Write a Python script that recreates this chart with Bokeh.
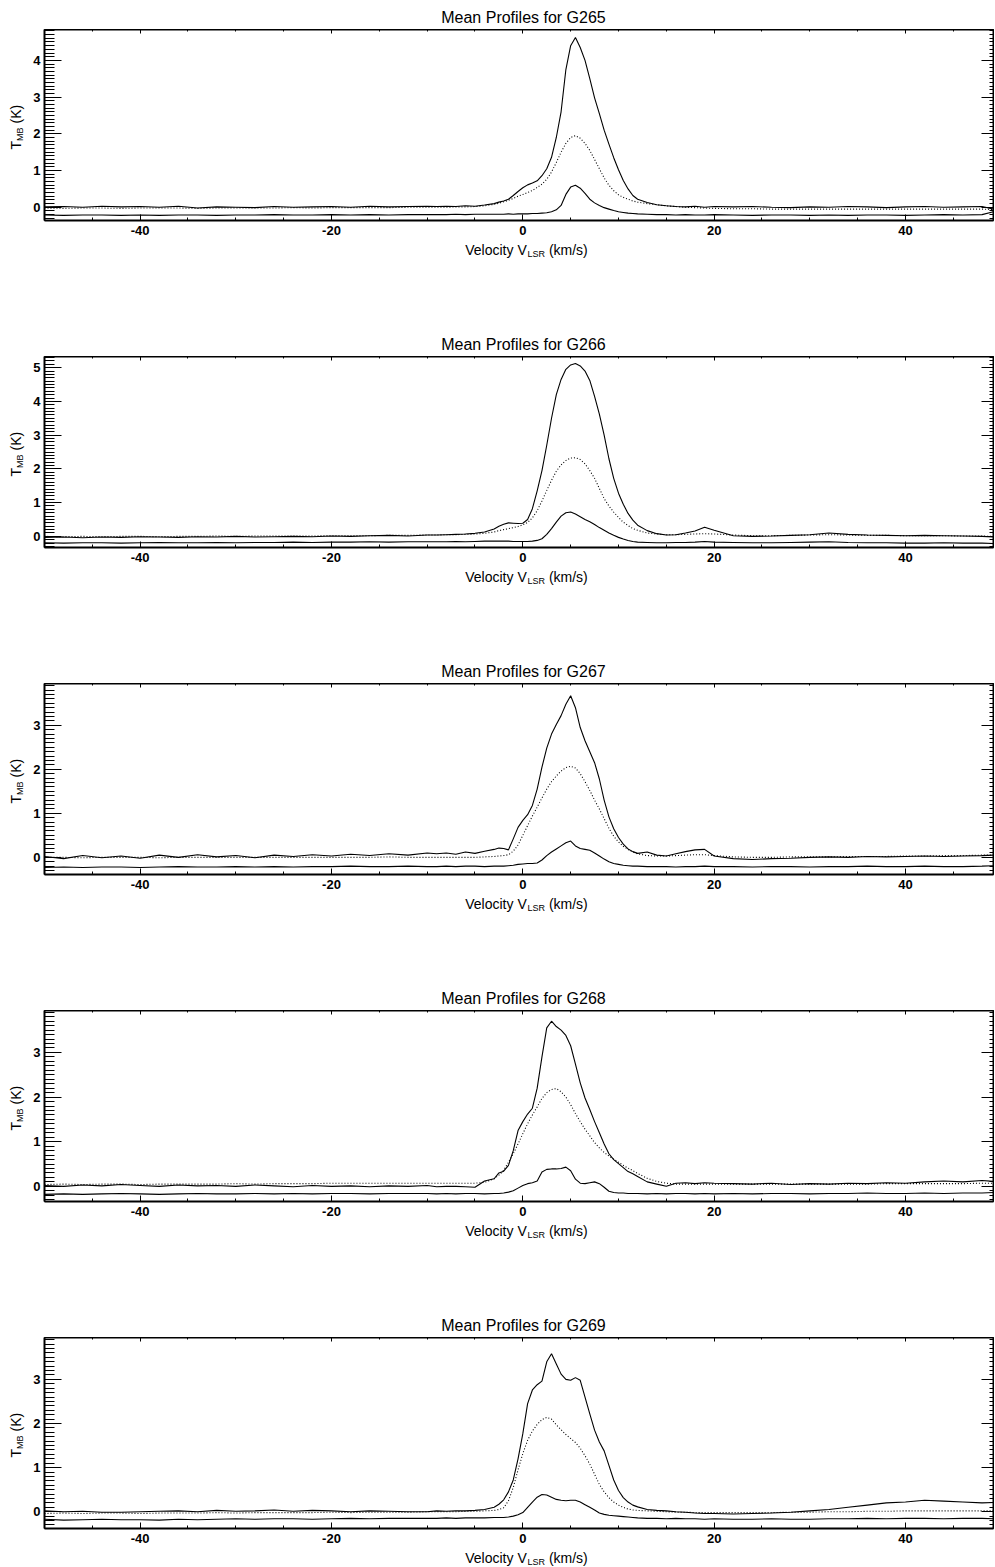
import math
from bokeh.plotting import figure
from bokeh.layouts import column, row
from bokeh.models import LinearAxis, Range1d, FixedTicker, Label, CustomJSTickFormatter
from bokeh.embed import file_html
from bokeh.resources import INLINE

# ---------------- data ----------------
VELOCITY = [-50, -48, -46, -44, -42, -40, -38, -36, -34, -32, -30, -28, -26, -24, -22, -20, -18, -16, -14, -12, -10,
            -9, -8, -7, -6, -5, -4, -3,
            -2.5, -2, -1.5, -1, -0.5, 0, 0.5, 1, 1.5, 2, 2.5, 3, 3.5, 4, 4.5, 5, 5.5, 6, 6.5, 7, 7.5, 8, 8.5, 9, 9.5, 10, 10.5, 11, 11.5, 12,
            13, 14, 15, 16, 17, 18, 19, 20,
            22, 24, 26, 28, 30, 32, 34, 36, 38, 40, 42, 44, 46, 48, 49.2]

G265_UPPER = [0.01, 0.02, 0.00, 0.03, 0.01, 0.02, 0.00, 0.03, -0.02, 0.01, 0.00, -0.01, 0.02, 0.00, 0.01, 0.02, 0.00, 0.03, 0.01, 0.02, 0.03,
              0.02, 0.03, 0.02, 0.04, 0.03, 0.06, 0.10,
              0.14, 0.17, 0.22, 0.32, 0.43, 0.53, 0.61, 0.66, 0.72, 0.86, 1.05, 1.36, 1.90, 2.60, 3.75, 4.40, 4.62, 4.35, 4.00, 3.50, 2.98, 2.55, 2.10, 1.72, 1.35, 1.02, 0.73, 0.50, 0.32, 0.22,
              0.13, 0.07, 0.04, 0.02, 0.01, 0.03, 0.00, 0.02,
              0.01, 0.02, 0.00, -0.01, 0.01, 0.00, 0.02, 0.01, -0.01, 0.01, 0.02, 0.00, 0.01, 0.02, -0.05]
G265_DOTTED = [-0.02, -0.03, -0.02, -0.02, -0.03, -0.02, -0.02, -0.02, -0.03, -0.02, -0.02, -0.02, -0.02, -0.01, -0.02, -0.01, -0.01, -0.01, -0.01, 0.00, 0.00,
               0.00, 0.00, 0.01, 0.01, 0.02, 0.04, 0.08,
               0.11, 0.15, 0.19, 0.24, 0.30, 0.35, 0.40, 0.46, 0.54, 0.63, 0.76, 0.96, 1.22, 1.50, 1.74, 1.90, 1.95, 1.88, 1.74, 1.55, 1.30, 1.05, 0.80, 0.60, 0.45, 0.34, 0.27, 0.22, 0.17, 0.14,
               0.10, 0.07, 0.04, 0.02, 0.00, -0.01, -0.02, -0.03,
               -0.04, -0.04, -0.05, -0.05, -0.05, -0.05, -0.05, -0.05, -0.05, -0.05, -0.05, -0.05, -0.05, -0.05, -0.06]
G265_LOWER = [-0.21, -0.22, -0.21, -0.21, -0.22, -0.21, -0.22, -0.21, -0.21, -0.22, -0.21, -0.21, -0.20, -0.21, -0.21, -0.20, -0.21, -0.20, -0.21, -0.20, -0.20,
              -0.20, -0.20, -0.19, -0.20, -0.19, -0.19, -0.19,
              -0.19, -0.19, -0.18, -0.19, -0.18, -0.18, -0.18, -0.17, -0.17, -0.16, -0.15, -0.12, -0.07, 0.05, 0.35, 0.55, 0.60, 0.52, 0.38, 0.22, 0.12, 0.05, -0.01, -0.05, -0.09, -0.12, -0.14, -0.16, -0.17, -0.18,
              -0.19, -0.20, -0.20, -0.21, -0.20, -0.21, -0.21, -0.20,
              -0.21, -0.22, -0.21, -0.21, -0.22, -0.21, -0.22, -0.21, -0.21, -0.22, -0.21, -0.20, -0.21, -0.20, -0.12]

G266_UPPER = [-0.03, -0.02, -0.04, -0.02, -0.03, -0.01, -0.02, -0.03, -0.01, -0.02, 0.00, -0.02, -0.01, 0.00, -0.01, 0.01, 0.00, 0.02, 0.03, 0.01, 0.04,
              0.04, 0.05, 0.06, 0.07, 0.09, 0.13, 0.22,
              0.30, 0.36, 0.40, 0.39, 0.38, 0.39, 0.50, 0.82, 1.35, 1.95, 2.70, 3.50, 4.20, 4.65, 4.95, 5.08, 5.12, 5.05, 4.90, 4.62, 4.15, 3.62, 3.00, 2.30, 1.72, 1.28, 0.95, 0.68, 0.48, 0.33,
              0.17, 0.08, 0.04, 0.05, 0.10, 0.16, 0.27, 0.18,
              0.02, 0.00, 0.01, 0.03, 0.05, 0.10, 0.06, 0.04, 0.03, 0.02, 0.03, 0.02, 0.01, 0.00, -0.02]
G266_DOTTED = [0.00, -0.01, 0.00, -0.01, 0.00, 0.00, -0.01, 0.00, 0.00, 0.01, 0.00, 0.01, 0.01, 0.01, 0.01, 0.02, 0.02, 0.02, 0.03, 0.03, 0.04,
               0.04, 0.05, 0.05, 0.06, 0.07, 0.09, 0.13,
               0.17, 0.20, 0.23, 0.26, 0.29, 0.34, 0.41, 0.55, 0.76, 1.05, 1.36, 1.66, 1.93, 2.12, 2.25, 2.32, 2.33, 2.28, 2.15, 1.95, 1.72, 1.42, 1.12, 0.90, 0.72, 0.56, 0.42, 0.32, 0.23, 0.18,
               0.10, 0.07, 0.05, 0.05, 0.06, 0.07, 0.08, 0.07,
               0.04, 0.02, 0.02, 0.03, 0.04, 0.05, 0.04, 0.03, 0.03, 0.02, 0.02, 0.02, 0.01, 0.01, 0.00]
G266_LOWER = [-0.19, -0.20, -0.19, -0.19, -0.20, -0.19, -0.18, -0.19, -0.19, -0.18, -0.19, -0.18, -0.18, -0.17, -0.18, -0.17, -0.17, -0.16, -0.17, -0.16, -0.16,
              -0.16, -0.16, -0.15, -0.16, -0.15, -0.14, -0.14,
              -0.14, -0.14, -0.14, -0.15, -0.15, -0.15, -0.15, -0.14, -0.12, -0.07, 0.06, 0.23, 0.42, 0.60, 0.70, 0.72, 0.66, 0.58, 0.50, 0.43, 0.35, 0.26, 0.18, 0.10, 0.03, -0.03, -0.08, -0.12, -0.15, -0.17,
              -0.18, -0.19, -0.19, -0.18, -0.18, -0.17, -0.15, -0.17,
              -0.18, -0.19, -0.19, -0.18, -0.17, -0.16, -0.18, -0.19, -0.19, -0.20, -0.20, -0.19, -0.20, -0.20, -0.21]

G267_UPPER = [0.02, -0.03, 0.04, -0.01, 0.03, -0.02, 0.05, 0.00, 0.06, 0.01, 0.04, -0.01, 0.05, 0.02, 0.06, 0.03, 0.07, 0.04, 0.08, 0.05, 0.10,
              0.08, 0.10, 0.07, 0.12, 0.09, 0.14, 0.18,
              0.21, 0.20, 0.17, 0.42, 0.68, 0.84, 0.97, 1.18, 1.55, 2.05, 2.48, 2.80, 3.02, 3.22, 3.48, 3.67, 3.40, 2.95, 2.65, 2.40, 2.15, 1.78, 1.30, 0.92, 0.65, 0.45, 0.30, 0.19, 0.13, 0.09,
              0.12, 0.05, 0.03, 0.08, 0.13, 0.17, 0.18, 0.03,
              -0.03, -0.05, -0.03, -0.02, 0.00, 0.01, 0.00, 0.02, 0.01, 0.02, 0.03, 0.02, 0.03, 0.04, 0.05]
G267_DOTTED = [0.00, 0.00, -0.01, 0.00, 0.00, 0.00, -0.01, 0.00, 0.00, 0.00, 0.00, 0.00, 0.00, 0.00, 0.00, 0.00, 0.00, 0.00, 0.01, 0.00, 0.00,
               0.00, 0.00, 0.00, 0.00, 0.00, 0.01, 0.02,
               0.03, 0.04, 0.06, 0.14, 0.28, 0.50, 0.72, 0.94, 1.14, 1.35, 1.55, 1.72, 1.85, 1.96, 2.04, 2.07, 2.03, 1.90, 1.72, 1.52, 1.30, 1.10, 0.88, 0.66, 0.48, 0.35, 0.25, 0.18, 0.12, 0.08,
               0.04, 0.03, 0.03, 0.04, 0.05, 0.06, 0.06, 0.04,
               0.01, 0.00, 0.00, 0.01, 0.01, 0.01, 0.02, 0.02, 0.02, 0.03, 0.03, 0.04, 0.04, 0.05, 0.05]
G267_LOWER = [-0.23, -0.22, -0.23, -0.22, -0.22, -0.23, -0.22, -0.21, -0.22, -0.22, -0.21, -0.22, -0.21, -0.22, -0.21, -0.21, -0.20, -0.21, -0.21, -0.20, -0.21,
              -0.21, -0.20, -0.21, -0.20, -0.20, -0.21, -0.20,
              -0.20, -0.20, -0.19, -0.18, -0.16, -0.15, -0.14, -0.14, -0.13, -0.06, 0.04, 0.12, 0.19, 0.26, 0.33, 0.37, 0.26, 0.20, 0.18, 0.16, 0.10, 0.03, -0.04, -0.10, -0.14, -0.16, -0.18, -0.19, -0.20, -0.20,
              -0.21, -0.21, -0.21, -0.22, -0.21, -0.21, -0.20, -0.21,
              -0.21, -0.22, -0.21, -0.21, -0.22, -0.21, -0.21, -0.20, -0.21, -0.21, -0.20, -0.21, -0.21, -0.20, -0.19]

G268_UPPER = [0.02, 0.00, 0.03, 0.01, 0.04, 0.02, 0.00, 0.03, 0.01, 0.02, 0.00, 0.03, 0.01, -0.01, 0.02, 0.00, 0.01, -0.01, 0.01, 0.00, 0.02,
              -0.01, 0.00, 0.00, -0.01, -0.02, 0.12, 0.17,
              0.30, 0.34, 0.47, 0.80, 1.25, 1.45, 1.62, 1.75, 2.20, 2.90, 3.55, 3.70, 3.58, 3.50, 3.38, 3.15, 2.74, 2.32, 1.98, 1.72, 1.45, 1.20, 0.95, 0.73, 0.60, 0.51, 0.42, 0.33, 0.28, 0.22,
              0.10, 0.05, 0.00, 0.07, 0.08, 0.06, 0.08, 0.07,
              0.06, 0.05, 0.07, 0.04, 0.06, 0.05, 0.07, 0.06, 0.08, 0.07, 0.10, 0.12, 0.10, 0.13, 0.11]
G268_DOTTED = [0.04, 0.05, 0.04, 0.05, 0.05, 0.04, 0.05, 0.05, 0.05, 0.05, 0.06, 0.05, 0.06, 0.06, 0.06, 0.07, 0.07, 0.07, 0.07, 0.07, 0.07,
               0.07, 0.07, 0.07, 0.07, 0.07, 0.09, 0.17,
               0.25, 0.36, 0.54, 0.73, 0.95, 1.18, 1.40, 1.60, 1.78, 1.97, 2.10, 2.17, 2.19, 2.12, 2.00, 1.83, 1.63, 1.45, 1.28, 1.13, 0.98, 0.86, 0.76, 0.68, 0.61, 0.54, 0.47, 0.41, 0.35, 0.29,
               0.18, 0.11, 0.07, 0.05, 0.05, 0.05, 0.05, 0.05,
               0.05, 0.05, 0.05, 0.05, 0.05, 0.05, 0.05, 0.05, 0.06, 0.06, 0.06, 0.06, 0.06, 0.07, 0.07]
G268_LOWER = [-0.18, -0.17, -0.18, -0.17, -0.16, -0.17, -0.18, -0.17, -0.16, -0.17, -0.17, -0.16, -0.17, -0.16, -0.17, -0.16, -0.16, -0.17, -0.16, -0.16, -0.16,
              -0.17, -0.16, -0.17, -0.16, -0.16, -0.17, -0.16,
              -0.16, -0.15, -0.13, -0.10, -0.04, 0.02, 0.06, 0.08, 0.12, 0.32, 0.38, 0.39, 0.39, 0.40, 0.43, 0.35, 0.16, 0.07, 0.06, 0.08, 0.10, 0.06, -0.02, -0.11, -0.14, -0.15, -0.15, -0.16, -0.16, -0.16,
              -0.17, -0.16, -0.17, -0.16, -0.16, -0.17, -0.16, -0.17,
              -0.16, -0.17, -0.16, -0.16, -0.17, -0.16, -0.16, -0.15, -0.16, -0.16, -0.15, -0.16, -0.15, -0.15, -0.14]

G269_UPPER = [0.02, 0.00, 0.01, -0.01, -0.01, 0.00, 0.01, 0.02, 0.00, 0.03, 0.01, 0.02, 0.04, 0.01, 0.03, 0.02, 0.00, 0.02, 0.01, 0.00, 0.00,
              0.02, 0.01, 0.02, 0.02, 0.03, 0.05, 0.10,
              0.17, 0.27, 0.45, 0.72, 1.20, 1.77, 2.45, 2.76, 2.88, 2.96, 3.40, 3.58, 3.35, 3.12, 3.00, 2.98, 3.04, 2.98, 2.60, 2.22, 1.85, 1.58, 1.38, 1.05, 0.72, 0.48, 0.32, 0.22, 0.15, 0.11,
              0.05, 0.03, 0.02, 0.00, -0.01, -0.03, -0.04, -0.04,
              -0.05, -0.04, -0.03, -0.01, 0.02, 0.05, 0.10, 0.15, 0.20, 0.22, 0.26, 0.24, 0.22, 0.20, 0.21]
G269_DOTTED = [-0.04, -0.03, -0.04, -0.03, -0.03, -0.04, -0.03, -0.03, -0.03, -0.02, -0.03, -0.02, -0.02, -0.02, -0.02, -0.01, -0.02, -0.01, -0.01, -0.01, 0.00,
               0.00, 0.00, 0.00, 0.01, 0.01, 0.02, 0.03,
               0.05, 0.09, 0.25, 0.55, 0.95, 1.32, 1.62, 1.83, 1.98, 2.09, 2.14, 2.10, 1.97, 1.86, 1.75, 1.66, 1.57, 1.44, 1.27, 1.08, 0.85, 0.62, 0.45, 0.32, 0.22, 0.15, 0.10, 0.06, 0.04, 0.03,
               0.02, 0.01, 0.00, -0.01, -0.01, -0.02, -0.02, -0.02,
               -0.02, -0.02, -0.02, -0.01, -0.01, 0.00, 0.00, 0.01, 0.01, 0.02, 0.02, 0.02, 0.02, 0.02, 0.02]
G269_LOWER = [-0.17, -0.19, -0.18, -0.17, -0.18, -0.18, -0.19, -0.17, -0.18, -0.17, -0.16, -0.17, -0.16, -0.16, -0.17, -0.16, -0.15, -0.16, -0.15, -0.15, -0.15,
              -0.15, -0.14, -0.15, -0.14, -0.14, -0.14, -0.13,
              -0.13, -0.13, -0.12, -0.10, -0.07, -0.02, 0.10, 0.22, 0.33, 0.39, 0.38, 0.33, 0.28, 0.26, 0.25, 0.26, 0.26, 0.22, 0.16, 0.10, 0.04, -0.03, -0.06, -0.08, -0.09, -0.10, -0.11, -0.12, -0.13, -0.14,
              -0.15, -0.15, -0.16, -0.15, -0.16, -0.16, -0.17, -0.16,
              -0.17, -0.17, -0.16, -0.17, -0.17, -0.16, -0.16, -0.15, -0.16, -0.15, -0.15, -0.16, -0.15, -0.15, -0.16]

REGIONS = ["G265", "G266", "G267", "G268", "G269"]
UPPER = [G265_UPPER, G266_UPPER, G267_UPPER, G268_UPPER, G269_UPPER]
DOTTED = [G265_DOTTED, G266_DOTTED, G267_DOTTED, G268_DOTTED, G269_DOTTED]
LOWER = [G265_LOWER, G266_LOWER, G267_LOWER, G268_LOWER, G269_LOWER]
Y_LIMITS = [(-0.36, 4.84), (-0.33, 5.33), (-0.39, 3.95), (-0.34, 3.94), (-0.38, 3.95)]
Y_TICKS = [[0, 1, 2, 3, 4], [0, 1, 2, 3, 4, 5], [0, 1, 2, 3], [0, 1, 2, 3], [0, 1, 2, 3]]
X_LIMITS = (-50, 49.2)
X_TICKS = [-40, -20, 0, 20, 40]
X_MINOR_TICKS = [-45, -35, -30, -25, -15, -10, -5, 5, 10, 15, 25, 30, 35, 45]

TITLE_PREFIX = "Mean Profiles for "
XLABEL_PARTS = ("Velocity V", "LSR", "(km/s)")
YLABEL_PARTS = ("T", "MB", "(K)")

# ---------------- layout / styling ----------------
FONT = "Liberation Sans"
PAGE_W = 994
YSTRIP_W = 28          # strip holding the y-axis label
PLOT_W = PAGE_W - YSTRIP_W
FRAME_H = 191
PLOT_BOTTOM = 21       # room for x tick labels
PLOT_H = FRAME_H + PLOT_BOTTOM
TOP_STRIP_H = 29
MID_STRIP_H = 115
LAST_STRIP_H = 18


def make_axis(ticker, tick_in, minor_in, show_labels):
    ax = LinearAxis(ticker=ticker, major_tick_in=tick_in, major_tick_out=0,
                    minor_tick_in=minor_in, minor_tick_out=0,
                    axis_line_color="black", axis_line_width=2,
                    major_tick_line_color="black", major_tick_line_width=1,
                    minor_tick_line_color="black", minor_tick_line_width=1)
    if show_labels:
        ax.formatter = CustomJSTickFormatter(code="return tick.toFixed(0)")
        ax.major_label_text_font = FONT
        ax.major_label_text_font_style = "bold"
        ax.major_label_text_font_size = "13px"
        ax.major_label_text_color = "black"
    else:
        ax.formatter = CustomJSTickFormatter(code="return ''")
        ax.major_label_text_font_size = "0px"
        ax.major_label_standoff = 0
    return ax


def strip(width, height):
    s = figure(width=width, height=height, x_range=Range1d(0, width), y_range=Range1d(0, height),
               output_backend="svg", toolbar_location=None,
               x_axis_location=None, y_axis_location=None, min_border=0,
               background_fill_color="white", border_fill_color="white")
    s.outline_line_color = None
    s.grid.visible = False
    return s


def lab(fig, x, y, text, size, align="left", angle=0.0):
    fig.add_layout(Label(x=x, y=y, x_units="screen", y_units="screen", text=text,
                         text_font=FONT, text_font_size=size, text_color="black",
                         text_align=align, text_baseline="middle", angle=angle))


def add_title(s, i):
    # centre 12px above the next frame's top edge (= strip bottom)
    lab(s, 523, 12, TITLE_PREFIX + REGIONS[i], "16px", align="center")


def add_xlabel(s, h):
    # strip top sits 21px below the frame; label centre ~29.5px below the frame
    lab(s, 464.75, h - 8.5, XLABEL_PARTS[0], "14px")
    lab(s, 527.0, h - 12.5, XLABEL_PARTS[1], "9px")
    lab(s, 548.4, h - 8.5, XLABEL_PARTS[2], "14px")


def make_ystrip():
    # this strip's frame is aligned with the neighbouring plot frame in the row
    s = strip(YSTRIP_W, PLOT_H)
    a = math.pi / 2
    lab(s, 15, 71.0, YLABEL_PARTS[0], "14px", angle=a)
    lab(s, 19, 79.6, YLABEL_PARTS[1], "9px", angle=a)
    lab(s, 15, 97.0, YLABEL_PARTS[2], "14px", angle=a)
    return s


def make_plot(i):
    lo, hi = Y_LIMITS[i]
    p = figure(width=PLOT_W, height=PLOT_H,
               x_range=Range1d(*X_LIMITS), y_range=Range1d(lo, hi),
               output_backend="svg", toolbar_location=None,
               x_axis_location=None, y_axis_location=None,
               min_border_left=44 - YSTRIP_W, min_border_right=1,
               min_border_top=0, min_border_bottom=PLOT_BOTTOM,
               background_fill_color="white", border_fill_color="white")
    p.outline_line_color = "black"
    p.outline_line_width = 1
    p.grid.visible = False

    y_minor = [round(k * 0.1, 1) for k in range(-3, int(hi * 10) + 1)]
    xt = FixedTicker(ticks=X_TICKS, minor_ticks=X_MINOR_TICKS)
    yt = FixedTicker(ticks=Y_TICKS[i], minor_ticks=y_minor)

    bottom = make_axis(xt, 6, 3, True)
    bottom.major_label_standoff = 5
    left = make_axis(yt, 17, 10, True)
    left.major_label_standoff = 4
    top = make_axis(xt, 4, 2, False)
    right = make_axis(yt, 12, 4, False)
    p.add_layout(bottom, "below")
    p.add_layout(left, "left")
    p.add_layout(top, "above")
    p.add_layout(right, "right")

    p.line(VELOCITY, UPPER[i], line_color="black", line_width=1.1)
    p.line(VELOCITY, DOTTED[i], line_color="black", line_width=1.1, line_dash="1 2")
    p.line(VELOCITY, LOWER[i], line_color="black", line_width=1.1)
    return p


items = []
s0 = strip(PAGE_W, TOP_STRIP_H)
add_title(s0, 0)
items.append(s0)
for i in range(5):
    items.append(row(make_ystrip(), make_plot(i), spacing=0))
    if i < 4:
        s = strip(PAGE_W, MID_STRIP_H)
        add_xlabel(s, MID_STRIP_H)
        add_title(s, i + 1)
    else:
        s = strip(PAGE_W, LAST_STRIP_H)
        add_xlabel(s, LAST_STRIP_H)
    items.append(s)

layout = column(*items, spacing=0)
open("out.html", "w").write(file_html(layout, INLINE))
